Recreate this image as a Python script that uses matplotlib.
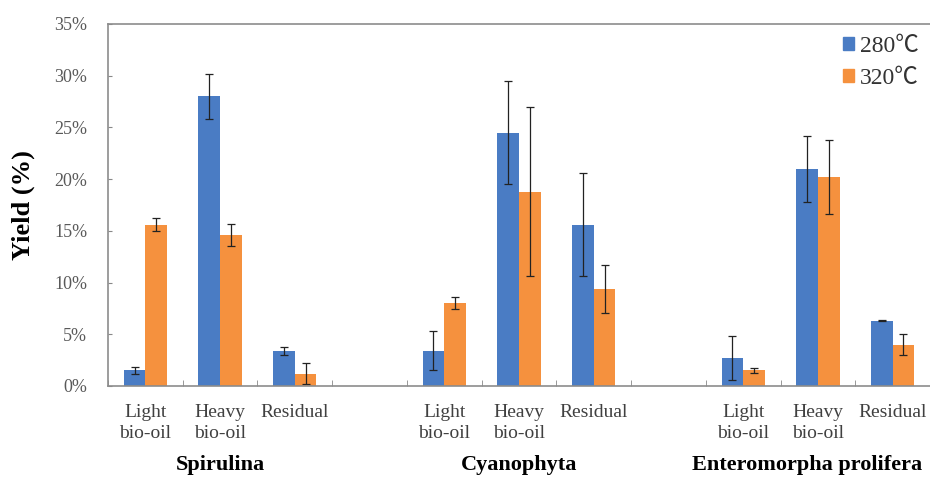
import matplotlib
matplotlib.use("Agg")
import matplotlib.pyplot as plt
import matplotlib.patches as mpatches
import numpy as np

# yields in %, 11 slots (empty slot between algae groups)
groups = ["Spirulina", "Cyanophyta", "Enteromorpha prolifera"]
fractions = ["Light\nbio-oil", "Heavy\nbio-oil", "Residual"]

yield_280 = [1.5, 28.0, 3.4, 3.4, 24.5, 15.6, 2.7, 21.0, 6.3]
err_280 = [0.3, 2.2, 0.4, 1.9, 5.0, 5.0, 2.1, 3.2, 0.05]
yield_320 = [15.6, 14.6, 1.2, 8.0, 18.8, 9.4, 1.5, 20.2, 4.0]
err_320 = [0.6, 1.1, 1.0, 0.6, 8.2, 2.3, 0.2, 3.6, 1.0]

series_labels = ["280\u2103", "320\u2103"]
c_blue = "#4a7cc4"
c_orange = "#f5913e"

serif = "Liberation Serif"

fig = plt.figure(figsize=(9.3, 4.8), dpi=100)
fig.patch.set_facecolor("white")
ax = fig.add_axes([108 / 930, 1 - 386 / 480, 822 / 930, 362 / 480])

# bar positions: skip slot 3 and 7
pos = np.array([i + i // 3 for i in range(9)], dtype=float)
w = 0.29

ax.bar(pos - w / 2, yield_280, w, color=c_blue, yerr=err_280,
       error_kw=dict(ecolor="#222222", elinewidth=0.9, capsize=3, capthick=0.9))
ax.bar(pos + w / 2, yield_320, w, color=c_orange, yerr=err_320,
       error_kw=dict(ecolor="#222222", elinewidth=0.9, capsize=3, capthick=0.9))

ax.set_xlim(-0.5, 10.5)
ax.set_ylim(0, 35)

ax.set_yticks(np.arange(0, 36, 5))
ax.set_yticklabels([f"{v}%" for v in range(0, 36, 5)], fontfamily=serif,
                   fontsize=13, color="#595959")
ax.tick_params(axis="y", direction="in", length=3, color="#888888", pad=15)

ax.set_xticks(pos)
ax.set_xticklabels(fractions * 3, fontfamily=serif, fontsize=14,
                   color="#404040", linespacing=1.3)
ax.set_xticks(np.arange(-0.5, 11, 1), minor=True)
ax.tick_params(axis="x", which="major", length=0, pad=13)
ax.tick_params(axis="x", which="minor", direction="in", length=4, color="#888888")

for s in ["left", "bottom", "top"]:
    ax.spines[s].set_color("#8c8c8c")
    ax.spines[s].set_linewidth(1.2)
ax.spines["right"].set_visible(False)

ax.set_ylabel("Yield (%)", fontfamily=serif, fontsize=19, fontweight="bold",
              labelpad=14)

# group names below the category labels
group_x = [pos[1], pos[4], pos[7] - 0.15]
for g, x in zip(groups, group_x):
    ax.text(x, -0.218, g, transform=ax.get_xaxis_transform(), ha="center",
            va="center", fontfamily=serif, fontsize=16, fontweight="bold")

handles = [mpatches.Patch(color=c_blue, label=series_labels[0]),
           mpatches.Patch(color=c_orange, label=series_labels[1])]
leg = ax.legend(handles=handles, loc="upper right", bbox_to_anchor=(1.012, 1.025),
                frameon=False, handlelength=0.45, handleheight=0.45,
                handletextpad=0.25, labelspacing=0.45,
                prop={"family": [serif, "Noto Sans CJK SC", "DejaVu Sans"], "size": 17})
for t in leg.get_texts():
    t.set_color("#333333")

plt.savefig("out.png", dpi=100, facecolor="white")
plt.close()
